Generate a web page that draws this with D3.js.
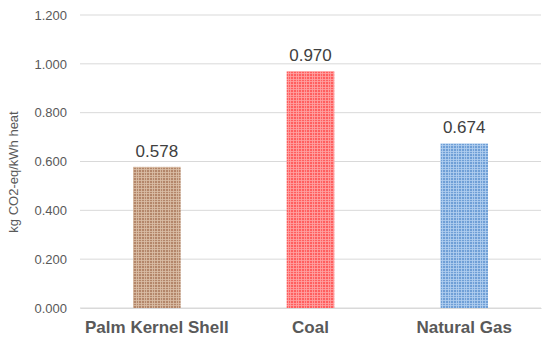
<!DOCTYPE html>
<html>
<head>
<meta charset="utf-8">
<script src="https://cdn.jsdelivr.net/npm/d3@7"></script>
<style>
  body { margin: 0; background: #fff; }
  svg { font-family: Arial, "Liberation Sans", sans-serif; }
</style>
</head>
<body>
<script>
// data
var categories = ["Palm Kernel Shell", "Coal", "Natural Gas"];
var values = [0.578, 0.970, 0.674];
var yTicks = [0, 0.2, 0.4, 0.6, 0.8, 1.0, 1.2];
var baseColors = ["#b3866a", "#ff5e5e", "#6f9fd6"];
var lightColors = ["#dbbfa8", "#ffa3a3", "#b3cff0"];

var margin = {top: 15, right: 9, bottom: 32, left: 80},
    width = 550 - margin.left - margin.right,
    height = 340 - margin.top - margin.bottom;

var svg = d3.select("body").append("svg")
    .attr("width", 550)
    .attr("height", 340);

// checkered patterns for the bars
var defs = svg.append("defs");
categories.forEach(function(c, i) {
  var p = defs.append("pattern")
      .attr("id", "pat" + i)
      .attr("patternUnits", "userSpaceOnUse")
      .attr("width", 8).attr("height", 8);
  p.append("rect").attr("width", 8).attr("height", 8).attr("fill", baseColors[i]);
  [0, 2, 5].forEach(function(o) {
    p.append("rect").attr("x", o).attr("width", 1).attr("height", 8)
        .attr("fill", lightColors[i]).attr("opacity", 0.8);
    p.append("rect").attr("y", o).attr("width", 8).attr("height", 1)
        .attr("fill", lightColors[i]).attr("opacity", 0.8);
  });
});

var g = svg.append("g")
    .attr("transform", "translate(" + margin.left + "," + margin.top + ")");

var x = d3.scaleBand().domain(categories).range([0, width]).paddingInner(0.69).paddingOuter(0.345);
var y = d3.scaleLinear().domain([0, 1.2]).range([height, 0]);

// gridlines
g.selectAll(".grid")
    .data(yTicks)
  .enter().append("line")
    .attr("x1", 0).attr("x2", width)
    .attr("y1", function(d) { return y(d); })
    .attr("y2", function(d) { return y(d); })
    .attr("stroke", "#d9d9d9")
    .attr("stroke-width", 1);

// y axis
var yAxis = g.append("g")
    .call(d3.axisLeft(y).tickValues(yTicks).tickFormat(d3.format(".3f")).tickSize(0).tickPadding(13));
yAxis.select(".domain").remove();
yAxis.selectAll("text")
    .attr("fill", "#595959")
    .style("font-size", "13px");

// bars
g.selectAll(".bar")
    .data(values)
  .enter().append("rect")
    .attr("x", function(d, i) { return x(categories[i]); })
    .attr("width", x.bandwidth())
    .attr("y", function(d) { return y(d); })
    .attr("height", function(d) { return height - y(d); })
    .attr("fill", function(d, i) { return "url(#pat" + i + ")"; });

// value labels
g.selectAll(".label")
    .data(values)
  .enter().append("text")
    .attr("x", function(d, i) { return x(categories[i]) + x.bandwidth() / 2; })
    .attr("y", function(d) { return y(d) - 10; })
    .attr("text-anchor", "middle")
    .attr("fill", "#404040")
    .style("font-size", "17px")
    .text(function(d) { return d3.format(".3f")(d); });

// x axis
var xAxis = g.append("g")
    .attr("transform", "translate(0," + height + ")")
    .call(d3.axisBottom(x).tickSize(0).tickPadding(13));
xAxis.select(".domain").attr("stroke", "#d9d9d9");
xAxis.selectAll("text")
    .attr("fill", "#595959")
    .style("font-size", "17px")
    .style("font-weight", "bold");

// y axis title
svg.append("text")
    .attr("transform", "translate(18,172) rotate(-90)")
    .attr("text-anchor", "middle")
    .attr("fill", "#595959")
    .style("font-size", "13px")
    .text("kg CO2-eq/kWh heat");
</script>
</body>
</html>
